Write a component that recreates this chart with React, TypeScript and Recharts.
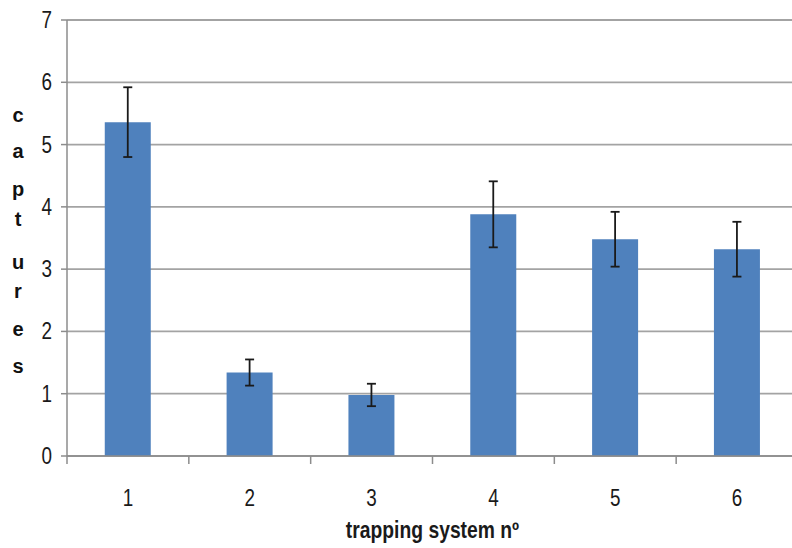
import { BarChart, Bar, XAxis, YAxis, CartesianGrid, ErrorBar } from "recharts";

const systems = ["1", "2", "3", "4", "5", "6"];
const captures = [5.36, 1.34, 0.98, 3.88, 3.48, 3.32];
const errors = [0.56, 0.21, 0.18, 0.53, 0.44, 0.44];
const yTicks = [0, 1, 2, 3, 4, 5, 6, 7];
const yTitle = ["c", "a", "p", "t", "u", "r", "e", "s"];
const xTitle = "trapping system nº";

const data = systems.map((s, i) => ({ system: s, captures: captures[i], err: errors[i] }));

const W = 800;
const H = 548;
const LEFT = 67;
const RIGHT = 2;
const band = (W - LEFT - RIGHT) / systems.length;

const sans = "'Liberation Sans', Arial, sans-serif";
const gridColor = "#a3a3a3";
const axisColor = "#8c8c8c";
const squeeze = 0.82; // no arial narrow here, so squash the regular face

const Narrow = ({ x, y, anchor, size, bold, sx = squeeze, children }: any) => (
  <text
    transform={`translate(${x},${y}) scale(${sx},1)`}
    textAnchor={anchor}
    fontSize={size}
    fontWeight={bold ? "bold" : "normal"}
    fill="#1a1a1a"
    fontFamily={sans}
  >
    {children}
  </text>
);

// excel puts its tick marks between categories, so draw them with the label
const XTick = (props: any) => {
  const { x, y, payload } = props;
  return (
    <g>
      <line x1={x - band / 2} y1={y - 8} x2={x - band / 2} y2={y} stroke={axisColor} strokeWidth={1.5} />
      {payload.index === systems.length - 1 && (
        <line x1={x + band / 2} y1={y - 8} x2={x + band / 2} y2={y} stroke={axisColor} strokeWidth={1.5} />
      )}
      <Narrow x={x} y={y + 42} anchor="middle" size={23}>
        {payload.value}
      </Narrow>
    </g>
  );
};

const YTick = (props: any) => {
  const { y, payload } = props;
  return (
    <Narrow x={52} y={y + 8} anchor="end" size={23}>
      {payload.value}
    </Narrow>
  );
};

const yLetterBase = [122, 158, 196, 226, 269, 298, 336, 373];

const YTitle = () => (
  <g>
    {yTitle.map((c, i) => (
      <text key={i} x={18} y={yLetterBase[i]} textAnchor="middle" fontSize={20} fontWeight="bold"
        fill="#111" fontFamily={sans}>
        {c}
      </text>
    ))}
  </g>
);

const XTitle = (props: any) => {
  const { viewBox } = props;
  return (
    <Narrow x={viewBox.x + viewBox.width / 2} y={538} anchor="middle" size={23} bold sx={0.84}>
      {xTitle}
    </Narrow>
  );
};

export default function App() {
  return (
    <div style={{ position: "absolute", left: 0, top: 0, width: 792, height: 548, overflow: "hidden", background: "#fff" }}>
      <BarChart width={W} height={H} data={data} margin={{ top: 20, right: RIGHT, left: 0, bottom: 0 }} barCategoryGap="31%">
        <CartesianGrid vertical={false} stroke={gridColor} strokeWidth={1.8} />
        <XAxis
          dataKey="system"
          height={92}
          stroke={axisColor}
          strokeWidth={1.5}
          tickLine={false}
          tick={<XTick />}
          interval={0}
          label={{ content: (p: any) => <XTitle {...p} /> }}
        />
        <YAxis
          width={LEFT}
          domain={[0, 7]}
          ticks={yTicks}
          interval={0}
          stroke={axisColor}
          strokeWidth={1.5}
          tickSize={6}
          tick={<YTick />}
          label={{ content: () => <YTitle /> }}
        />
        <Bar dataKey="captures" fill="#4f81bd" isAnimationActive={false}>
          <ErrorBar dataKey="err" width={4.5} stroke="#1a1a1a" strokeWidth={1.8} />
        </Bar>
      </BarChart>
    </div>
  );
}
